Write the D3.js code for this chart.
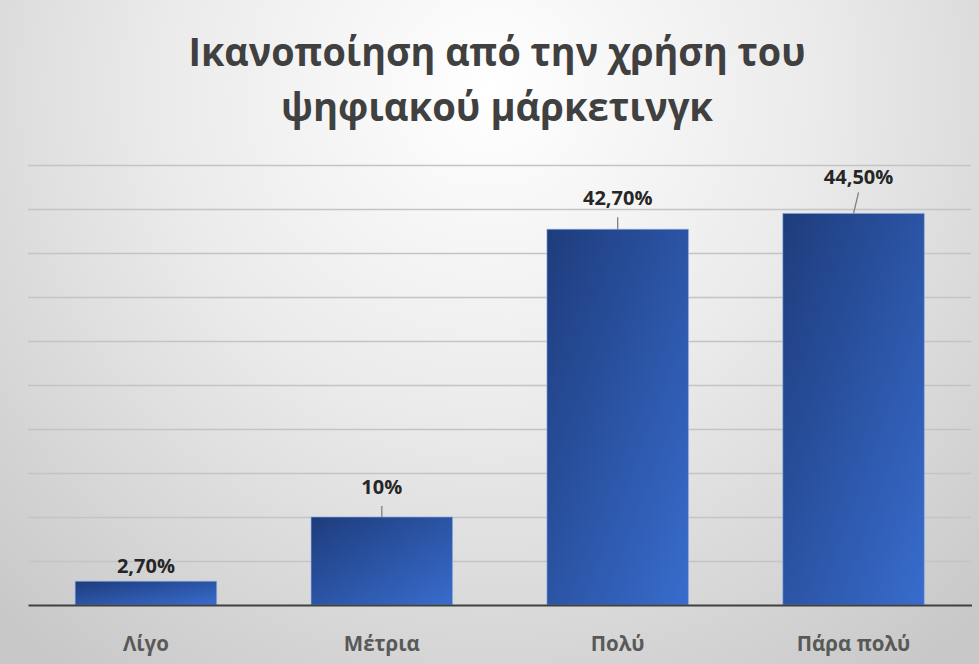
<!DOCTYPE html>
<html lang="el">
<head>
<meta charset="utf-8">
<script src="https://cdn.jsdelivr.net/npm/d3@7"></script>
<style>
  html, body { margin: 0; padding: 0; background: #fff; }
  svg { display: block; }
</style>
</head>
<body>
<svg id="chart" width="979" height="664"></svg>
<script>
// Chart content
const titleLines = ["Ικανοποίηση από την χρήση του", "ψηφιακού μάρκετινγκ"];
const categories = ["Λίγο", "Μέτρια", "Πολύ", "Πάρα πολύ"];
const values = [2.7, 10, 42.7, 44.5];
const valueLabels = ["2,70%", "10%", "42,70%", "44,50%"];
const yTicks = [0, 5, 10, 15, 20, 25, 30, 35, 40, 45, 50];

const W = 979, H = 664;
const margin = { left: 28, right: 8, top: 165, bottom: 59 };

const svg = d3.select("#chart");
const defs = svg.append("defs");

// soft radial backdrop
const bg = defs.append("radialGradient")
  .attr("id", "bgGrad")
  .attr("gradientUnits", "userSpaceOnUse")
  .attr("cx", 490).attr("cy", 90).attr("r", 720);
bg.append("stop").attr("offset", 0).attr("stop-color", "#ffffff");
bg.append("stop").attr("offset", 0.45).attr("stop-color", "#ebebeb");
bg.append("stop").attr("offset", 1).attr("stop-color", "#c8c8c8");

// bar fill: dark navy at top-left to brighter blue at bottom-right
const barGrad = defs.append("linearGradient")
  .attr("id", "barGrad")
  .attr("x1", 0).attr("y1", 0).attr("x2", 1).attr("y2", 1);
barGrad.append("stop").attr("offset", 0).attr("stop-color", "#1e3c7c");
barGrad.append("stop").attr("offset", 1).attr("stop-color", "#386ccd");

svg.append("rect")
  .attr("x", 0).attr("y", 0).attr("width", W).attr("height", H)
  .attr("fill", "url(#bgGrad)");

const x = d3.scaleBand()
  .domain(categories)
  .range([margin.left, W - margin.right + 0.5])
  .paddingInner(0.4)
  .paddingOuter(0.2);

const y = d3.scaleLinear()
  .domain([0, 50])
  .range([H - margin.bottom, margin.top]);

// horizontal gridlines
const grid = svg.append("g")
  .attr("transform", `translate(${margin.left},0)`)
  .call(d3.axisLeft(y).tickValues(yTicks.slice(1)).tickSize(-(W - margin.left - margin.right)).tickFormat(""));
grid.select(".domain").remove();
grid.selectAll(".tick line")
  .attr("stroke", "#c4c4c4")
  .attr("stroke-width", 1.5);

// bars
svg.append("g")
  .selectAll("rect")
  .data(values)
  .join("rect")
  .attr("x", (d, i) => x(categories[i]))
  .attr("y", d => y(d))
  .attr("width", x.bandwidth())
  .attr("height", d => y(0) - y(d))
  .attr("fill", "url(#barGrad)")
  .attr("stroke", "#8fb3ec")
  .attr("stroke-opacity", 0.6)
  .attr("stroke-width", 1);

// category axis
const xAxis = svg.append("g")
  .attr("transform", `translate(0,${y(0)})`)
  .call(d3.axisBottom(x).tickSize(0).tickPadding(31));
xAxis.select(".domain")
  .attr("stroke", "#404040")
  .attr("stroke-width", 2.2);
xAxis.selectAll(".tick text")
  .attr("fill", "#595959")
  .attr("font-family", "'Open Sans', sans-serif")
  .attr("font-weight", 700)
  .attr("font-size", 20.5);

// data labels, lifted above the bars with short leader lines
const labelLift = [8, 23, 24, 29];
const labelShift = [0, 0, 0, 5];
const labels = svg.append("g");
values.forEach((v, i) => {
  const cx = x(categories[i]) + x.bandwidth() / 2;
  const top = y(v);
  const lx = cx + labelShift[i];
  const ly = top - labelLift[i];
  if (labelLift[i] > 10) {
    labels.append("line")
      .attr("x1", cx).attr("y1", top)
      .attr("x2", lx).attr("y2", ly + 12 - (labelShift[i] ? 4 : 0))
      .attr("stroke", "#7f7f7f")
      .attr("stroke-width", 1.3);
  }
  labels.append("text")
    .attr("x", lx)
    .attr("y", ly)
    .attr("text-anchor", "middle")
    .attr("fill", "#262626")
    .attr("font-family", "'Open Sans', sans-serif")
    .attr("font-weight", 700)
    .attr("font-size", 20)
    .text(valueLabels[i]);
});

// title, two centred lines
const titleWidths = [617, 432];
const title = svg.append("g");
titleLines.forEach((t, i) => {
  title.append("text")
    .attr("x", 497)
    .attr("y", 66 + i * 55)
    .attr("text-anchor", "middle")
    .attr("fill", "#404040")
    .attr("font-family", "'Open Sans', sans-serif")
    .attr("font-weight", 700)
    .attr("font-size", 40)
    .attr("textLength", titleWidths[i])
    .attr("lengthAdjust", "spacingAndGlyphs")
    .text(t);
});
</script>
</body>
</html>
